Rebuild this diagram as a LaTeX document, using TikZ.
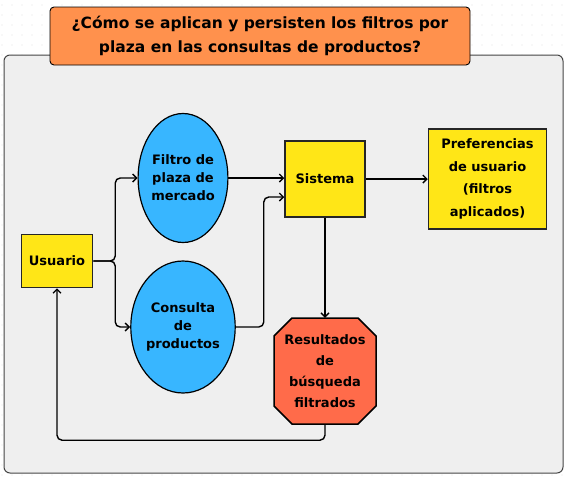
\documentclass[tikz,border=0pt]{standalone}
\usepackage{fontspec}
\setmainfont{DejaVu Sans}
\usepackage{xcolor}
\usepackage{tikz}
\usetikzlibrary{arrows.meta,calc,positioning,shapes.geometric}
\definecolor{panelgray}{HTML}{EFEFEF}
\definecolor{panelline}{HTML}{454545}
\definecolor{dotgray}{HTML}{E2E2E2}
\definecolor{titleorange}{HTML}{FF914D}
\definecolor{boxyellow}{HTML}{FFE617}
\definecolor{ovalblue}{HTML}{38B6FF}
\definecolor{resred}{HTML}{FF6B4A}

\begin{document}
\begin{tikzpicture}[
  x=1pt,y=-1pt,
  panel/.style={draw=panelline,line width=1pt,rounded corners=6pt,fill=panelgray},
  title/.style={draw=black,line width=0.9pt,rounded corners=4pt,fill=titleorange,
                align=center,minimum width=420pt,minimum height=58pt,
                font=\fontsize{15.5}{24}\selectfont\bfseries},
  box/.style={draw=black!85,line width=1.5pt,fill=boxyellow,align=center,
              font=\fontsize{13}{22.5}\selectfont\bfseries},
  oval/.style={ellipse,draw=black,line width=1.2pt,fill=ovalblue,align=center,
               inner sep=0pt,font=\fontsize{13}{18}\selectfont\bfseries},
  octa/.style={draw=black,line width=1.5pt,fill=resred},
  result/.style={align=center,inner sep=0pt,minimum width=102pt,minimum height=106pt,
                 font=\fontsize{13}{21}\selectfont\bfseries},
  link/.style={line width=1.4pt,rounded corners=5pt,-{Straight Barb[length=4pt,width=8pt]}}
]
  \useasboundingbox (0,0) rectangle (571,483);
  % dotted canvas
  \foreach \i in {0,...,56}
    \foreach \j in {0,...,47}
      \fill[dotgray] (2+10*\i,5+10*\j) circle (0.6pt);

  \draw[panel] (4,55) rectangle (563,473);
  \node[title] (ttl) at (260,36)
    {¿Cómo se aplican y persisten los filtros por\\plaza en las consultas de productos?};

  \node[box,minimum width=71pt,minimum height=53pt] (usr) at (57,261) {Usuario};
  \node[oval,minimum width=86pt,minimum height=129pt] (fil) at (183,178) {Filtro de\\plaza de\\mercado};
  \node[oval,minimum width=97pt,minimum height=132pt] (con) at (183,327) {Consulta\\de\\productos};
  \node[box,minimum width=80pt,minimum height=76pt] (sis) at (325,179) {Sistema};
  \node[box,minimum width=118pt,minimum height=100pt,right=62pt of sis] (pref)
    {Preferencias\\de usuario\\(filtros\\aplicados)};

  % octagon for the results
  \coordinate (rc) at (325,371);
  \draw[octa] ($(rc)+(-33,-53)$) -- ($(rc)+(33,-53)$) -- ($(rc)+(51,-35)$) -- ($(rc)+(51,35)$)
    -- ($(rc)+(33,53)$) -- ($(rc)+(-33,53)$) -- ($(rc)+(-51,35)$) -- ($(rc)+(-51,-35)$) -- cycle;
  \node[result] (res) at (rc) {Resultados\\de\\búsqueda\\filtrados};

  \draw[link] (usr.east) -- ++(22,0) |- (fil.west);
  \draw[link] (usr.east) -- ++(22,0) |- (con.west);
  \draw[link] (fil.east) -- (sis.west |- fil.east);
  \draw[link] (con.east) -- ++(28,0) |- ([yshift=-18pt]sis.west);
  \draw[link] (sis) -- (pref);
  \draw[link] (sis) -- (res);
  \draw[link] (res.south) -- ++(0,16) -| (usr.south);
\end{tikzpicture}
\end{document}
